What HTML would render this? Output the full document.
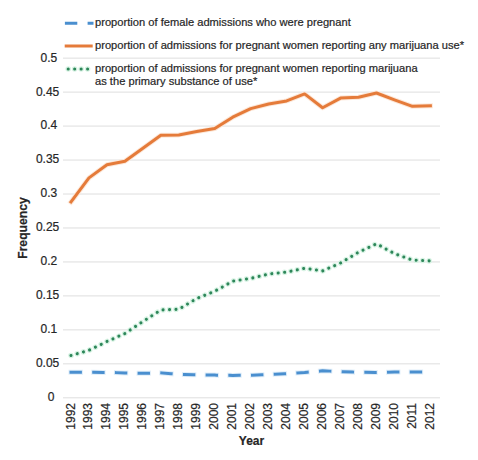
<!DOCTYPE html>
<html><head><meta charset="utf-8"><style>
html,body{margin:0;padding:0;background:#fff;width:478px;height:460px;overflow:hidden}
svg{display:block}
text{font-family:"Liberation Sans",sans-serif;fill:#262626;stroke:#262626;stroke-width:0.2px}
</style></head><body>
<svg width="478" height="460" viewBox="0 0 478 460">

<line x1="63" x2="440" y1="397.80" y2="397.80" stroke="#dedede" stroke-width="1"/>
<line x1="63" x2="440" y1="363.84" y2="363.84" stroke="#dedede" stroke-width="1"/>
<line x1="63" x2="440" y1="329.87" y2="329.87" stroke="#dedede" stroke-width="1"/>
<line x1="63" x2="440" y1="295.90" y2="295.90" stroke="#dedede" stroke-width="1"/>
<line x1="63" x2="440" y1="261.94" y2="261.94" stroke="#dedede" stroke-width="1"/>
<line x1="63" x2="440" y1="227.98" y2="227.98" stroke="#dedede" stroke-width="1"/>
<line x1="63" x2="440" y1="194.01" y2="194.01" stroke="#dedede" stroke-width="1"/>
<line x1="63" x2="440" y1="160.05" y2="160.05" stroke="#dedede" stroke-width="1"/>
<line x1="63" x2="440" y1="126.08" y2="126.08" stroke="#dedede" stroke-width="1"/>
<line x1="63" x2="440" y1="92.12" y2="92.12" stroke="#dedede" stroke-width="1"/>
<line x1="63" x2="440" y1="58.15" y2="58.15" stroke="#dedede" stroke-width="1"/>
<text x="47.7" y="401.10" font-size="12">0</text>
<text x="35.9" y="367.14" font-size="12">0.05</text>
<text x="40.6" y="333.17" font-size="12">0.1</text>
<text x="35.9" y="299.20" font-size="12">0.15</text>
<text x="40.6" y="265.24" font-size="12">0.2</text>
<text x="35.9" y="231.28" font-size="12">0.25</text>
<text x="40.6" y="197.31" font-size="12">0.3</text>
<text x="35.9" y="163.35" font-size="12">0.35</text>
<text x="40.6" y="129.38" font-size="12">0.4</text>
<text x="35.9" y="96.12" font-size="12">0.45</text>
<text x="40.6" y="62.15" font-size="12">0.5</text>
<text transform="translate(74.50,403.0) rotate(-90)" font-size="12" text-anchor="end">1992</text>
<text transform="translate(92.47,403.0) rotate(-90)" font-size="12" text-anchor="end">1993</text>
<text transform="translate(110.44,403.0) rotate(-90)" font-size="12" text-anchor="end">1994</text>
<text transform="translate(128.41,403.0) rotate(-90)" font-size="12" text-anchor="end">1995</text>
<text transform="translate(146.38,403.0) rotate(-90)" font-size="12" text-anchor="end">1996</text>
<text transform="translate(164.35,403.0) rotate(-90)" font-size="12" text-anchor="end">1997</text>
<text transform="translate(182.32,403.0) rotate(-90)" font-size="12" text-anchor="end">1998</text>
<text transform="translate(200.29,403.0) rotate(-90)" font-size="12" text-anchor="end">1999</text>
<text transform="translate(218.26,403.0) rotate(-90)" font-size="12" text-anchor="end">2000</text>
<text transform="translate(236.23,403.0) rotate(-90)" font-size="12" text-anchor="end">2001</text>
<text transform="translate(254.20,403.0) rotate(-90)" font-size="12" text-anchor="end">2002</text>
<text transform="translate(272.17,403.0) rotate(-90)" font-size="12" text-anchor="end">2003</text>
<text transform="translate(290.14,403.0) rotate(-90)" font-size="12" text-anchor="end">2004</text>
<text transform="translate(308.11,403.0) rotate(-90)" font-size="12" text-anchor="end">2005</text>
<text transform="translate(326.08,403.0) rotate(-90)" font-size="12" text-anchor="end">2006</text>
<text transform="translate(344.05,403.0) rotate(-90)" font-size="12" text-anchor="end">2007</text>
<text transform="translate(362.02,403.0) rotate(-90)" font-size="12" text-anchor="end">2008</text>
<text transform="translate(379.99,403.0) rotate(-90)" font-size="12" text-anchor="end">2009</text>
<text transform="translate(397.96,403.0) rotate(-90)" font-size="12" text-anchor="end">2010</text>
<text transform="translate(415.93,403.0) rotate(-90)" font-size="12" text-anchor="end">2011</text>
<text transform="translate(433.90,403.0) rotate(-90)" font-size="12" text-anchor="end">2012</text>
<text x="251.5" y="445.2" font-size="12" font-weight="bold" text-anchor="middle">Year</text>
<text transform="translate(26.6,228.0) rotate(-90)" font-size="12.2" font-weight="bold" text-anchor="middle">Frequency</text>
<polyline points="71.00,372.30 88.97,372.30 106.94,372.40 124.91,372.90 142.88,373.30 160.85,372.90 178.82,374.30 196.79,374.80 214.76,375.10 232.73,375.40 250.70,375.20 268.67,374.50 286.64,373.70 304.61,372.50 322.58,370.80 340.55,371.60 358.52,372.30 376.49,372.40 394.46,372.00 412.43,371.90 430.40,371.90" fill="none" stroke="#e0eef9" stroke-width="5" stroke-dasharray="9.4 13.3" stroke-linecap="square" stroke-linejoin="round"/>
<polyline points="71.00,372.30 88.97,372.30 106.94,372.40 124.91,372.90 142.88,373.30 160.85,372.90 178.82,374.30 196.79,374.80 214.76,375.10 232.73,375.40 250.70,375.20 268.67,374.50 286.64,373.70 304.61,372.50 322.58,370.80 340.55,371.60 358.52,372.30 376.49,372.40 394.46,372.00 412.43,371.90 430.40,371.90" fill="none" stroke="#4A8FCF" stroke-width="3" stroke-dasharray="9.4 13.3" stroke-linecap="square" stroke-linejoin="round"/>
<polyline points="71.00,355.50 88.97,350.30 106.94,341.50 124.91,333.50 142.88,321.50 160.85,310.00 178.82,309.20 196.79,298.50 214.76,291.20 232.73,281.20 250.70,278.40 268.67,274.00 286.64,272.10 304.61,268.30 322.58,270.90 340.55,263.00 358.52,252.20 376.49,243.80 394.46,253.60 412.43,260.10 430.40,260.90" fill="none" stroke="#d8f3e4" stroke-width="5.6" stroke-dasharray="0.01 6.46" stroke-linecap="round" stroke-linejoin="round"/>
<polyline points="71.00,355.50 88.97,350.30 106.94,341.50 124.91,333.50 142.88,321.50 160.85,310.00 178.82,309.20 196.79,298.50 214.76,291.20 232.73,281.20 250.70,278.40 268.67,274.00 286.64,272.10 304.61,268.30 322.58,270.90 340.55,263.00 358.52,252.20 376.49,243.80 394.46,253.60 412.43,260.10 430.40,260.90" fill="none" stroke="#2d8659" stroke-width="3.1" stroke-dasharray="0.01 6.46" stroke-linecap="round" stroke-linejoin="round"/>
<polyline points="71.00,201.90 88.97,177.90 106.94,164.80 124.91,161.20 142.88,148.30 160.85,135.20 178.82,134.90 196.79,131.60 214.76,128.60 232.73,117.20 250.70,108.60 268.67,104.00 286.64,100.90 304.61,93.90 322.58,107.80 340.55,98.10 358.52,97.30 376.49,93.00 394.46,99.80 412.43,106.30 430.40,105.90" fill="none" stroke="#fce8da" stroke-width="5" stroke-linecap="square" stroke-linejoin="round"/>
<polyline points="71.00,201.90 88.97,177.90 106.94,164.80 124.91,161.20 142.88,148.30 160.85,135.20 178.82,134.90 196.79,131.60 214.76,128.60 232.73,117.20 250.70,108.60 268.67,104.00 286.64,100.90 304.61,93.90 322.58,107.80 340.55,98.10 358.52,97.30 376.49,93.00 394.46,99.80 412.43,106.30 430.40,105.90" fill="none" stroke="#E57B3A" stroke-width="3" stroke-linecap="square" stroke-linejoin="round"/>
<line x1="66.4" x2="92.0" y1="23.2" y2="23.2" stroke="#4A8FCF" stroke-width="3" stroke-dasharray="9.4 13.3" stroke-linecap="square"/>
<text x="95.0" y="26.3" font-size="11.15">proportion of female admissions who were pregnant</text>
<line x1="66.2" x2="91.2" y1="46" y2="46" stroke="#E57B3A" stroke-width="3" stroke-linecap="square"/>
<text x="95.0" y="48.8" font-size="11.15">proportion of admissions for pregnant women reporting any marijuana use*</text>
<line x1="68.2" x2="90" y1="69" y2="69" stroke="#d8f3e4" stroke-width="5.6" stroke-dasharray="0.01 6.46" stroke-linecap="round"/>
<line x1="68.2" x2="90" y1="69" y2="69" stroke="#2d8659" stroke-width="3.1" stroke-dasharray="0.01 6.46" stroke-linecap="round"/>
<text x="95.0" y="71.8" font-size="11.15">proportion of admissions for pregnant women reporting marijuana</text>
<text x="95.0" y="84.6" font-size="11.15">as the primary substance of use*</text>
</svg></body></html>
